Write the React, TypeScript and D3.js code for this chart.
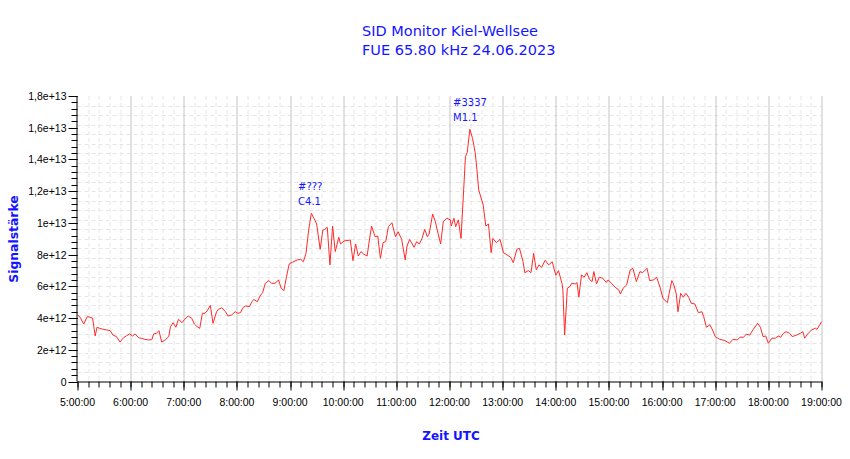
import { useEffect, useRef } from 'react';
import * as d3 from 'd3';

// Signal strength readings (unit: 1e12)
const times = [
  '05:00', '05:03', '05:07', '05:11', '05:14', '05:17', '05:20', '05:22', '05:25', '05:29',
  '05:33', '05:37', '05:40', '05:44', '05:48', '05:52', '05:55', '05:59', '06:02', '06:05',
  '06:09', '06:12', '06:16', '06:20', '06:24', '06:26', '06:29', '06:32', '06:35', '06:39',
  '06:43', '06:45', '06:48', '06:51', '06:54', '06:58', '07:01', '07:05', '07:09', '07:12',
  '07:15', '07:18', '07:21', '07:24', '07:27', '07:30', '07:33', '07:37', '07:39', '07:43',
  '07:47', '07:50', '07:54', '07:58', '08:01', '08:04', '08:07', '08:10', '08:14', '08:17',
  '08:19', '08:23', '08:26', '08:29', '08:32', '08:36', '08:39', '08:43', '08:47', '08:50',
  '08:53', '08:56', '08:59', '09:03', '09:08', '09:12', '09:15', '09:18', '09:21', '09:24',
  '09:27', '09:30', '09:34', '09:37', '09:39', '09:42', '09:45', '09:48', '09:51', '09:55',
  '09:57', '10:01', '10:08', '10:11', '10:14', '10:17', '10:20', '10:23', '10:27', '10:29',
  '10:32', '10:36', '10:39', '10:42', '10:45', '10:48', '10:51', '10:55', '10:59', '11:02',
  '11:06', '11:10', '11:12', '11:15', '11:20', '11:23', '11:26', '11:29', '11:32', '11:35',
  '11:37', '11:41', '11:44', '11:47', '11:50', '11:53', '11:57', '12:01', '12:02', '12:05',
  '12:07', '12:10', '12:13', '12:16', '12:18', '12:20', '12:23', '12:26', '12:29', '12:31',
  '12:33', '12:35', '12:38', '12:41', '12:44', '12:47', '12:49', '12:53', '12:57', '13:01',
  '13:05', '13:09', '13:12', '13:16', '13:19', '13:23', '13:25', '13:29', '13:32', '13:35',
  '13:38', '13:41', '13:44', '13:48', '13:52', '13:56', '14:00', '14:03', '14:07', '14:08',
  '14:10', '14:13', '14:16', '14:18', '14:22', '14:24', '14:26', '14:29', '14:32', '14:35',
  '14:38', '14:41', '14:43', '14:46', '14:49', '14:53', '14:57', '14:59', '15:03', '15:07',
  '15:11', '15:13', '15:16', '15:20', '15:24', '15:27', '15:31', '15:35', '15:38', '15:43',
  '15:46', '15:50', '15:54', '15:58', '16:01', '16:06', '16:08', '16:11', '16:13', '16:16',
  '16:18', '16:21', '16:24', '16:27', '16:30', '16:33', '16:37', '16:41', '16:45', '16:47',
  '16:50', '16:54', '16:57', '17:00', '17:05', '17:11', '17:16', '17:20', '17:25', '17:28',
  '17:32', '17:35', '17:39', '17:43', '17:48', '17:51', '17:54', '17:57', '18:00', '18:04',
  '18:08', '18:11', '18:14', '18:17', '18:20', '18:24', '18:27', '18:32', '18:36', '18:39',
  '18:41', '18:45', '18:49', '18:53', '18:55', '19:00',
];

const signal = [
  4.19, 4.05, 3.62, 4.09, 4.05, 4.0, 2.87, 3.42, 3.35, 3.29,
  3.25, 3.2, 2.93, 2.83, 2.49, 2.76, 2.87, 3.0, 2.87, 3.0,
  2.76, 2.72, 2.66, 2.62, 2.64, 3.0, 3.04, 3.2, 2.49, 2.62,
  2.83, 3.46, 3.71, 3.42, 3.92, 3.71, 3.92, 4.13, 3.98, 3.62,
  3.46, 3.35, 4.3, 4.3, 4.51, 4.8, 3.67, 4.4, 4.55, 4.65,
  4.4, 4.13, 4.19, 4.4, 4.3, 4.34, 4.67, 4.76, 4.72, 5.03,
  5.17, 5.03, 5.39, 5.6, 6.19, 6.36, 6.19, 6.19, 6.4, 5.88,
  5.73, 6.61, 7.41, 7.53, 7.66, 7.7, 7.55, 8.08, 9.55, 10.6,
  10.29, 9.93, 8.33, 9.55, 9.59, 9.72, 7.35, 9.8, 8.19, 9.09,
  8.67, 8.86, 8.92, 7.62, 8.67, 7.91, 8.19, 8.04, 7.91, 8.71,
  9.8, 9.13, 9.17, 7.77, 8.75, 8.82, 9.76, 10.01, 9.13, 9.44,
  8.96, 7.66, 8.54, 8.96, 8.46, 8.82, 8.67, 9.02, 9.59, 9.13,
  9.3, 10.56, 10.08, 9.34, 8.67, 10.08, 10.29, 10.19, 9.8, 10.29,
  9.76, 10.19, 9.02, 12.07, 14.17, 14.43, 15.9, 15.33, 14.43, 13.34,
  12.07, 11.7, 11.13, 9.8, 9.93, 8.12, 9.02, 8.75, 8.96, 8.12,
  7.98, 7.84, 7.49, 8.33, 8.4, 7.56, 6.86, 6.99, 6.86, 8.08,
  7.03, 7.35, 7.2, 7.64, 7.35, 7.55, 6.7, 6.99, 6.19, 5.78,
  2.93, 5.88, 5.99, 6.19, 6.15, 6.24, 5.31, 6.72, 6.57, 6.86,
  6.44, 6.3, 6.93, 6.15, 6.57, 6.51, 6.24, 6.4, 6.19, 5.94,
  5.78, 5.52, 5.88, 6.09, 7.03, 7.14, 6.3, 6.93, 6.86, 7.14,
  6.36, 6.4, 6.57, 5.88, 5.24, 4.97, 5.56, 6.36, 6.15, 5.52,
  4.4, 5.56, 5.31, 5.56, 5.31, 4.93, 4.89, 4.34, 4.4, 4.09,
  3.42, 3.57, 3.25, 2.83, 2.66, 2.58, 2.41, 2.66, 2.62, 2.79,
  2.79, 2.98, 2.93, 3.29, 3.67, 3.42, 2.83, 2.87, 2.41, 2.73,
  2.73, 2.87, 2.79, 3.04, 3.14, 3.04, 2.83, 2.93, 3.04, 3.14,
  2.73, 3.04, 3.25, 3.36, 3.29, 3.77,
];

// Flare annotations (anchor = baseline of first line)
const flareTimes = ['09:09', '12:04'];
const flareValues = [12.07, 17.37];
const flareIds = ['#???', '#3337'];
const flareClasses = ['C4.1', 'M1.1'];

const yMaxE12 = 18;
const yMajorStep = 2;
const yGridStep = 0.6;
const titleLines = ['SID Monitor Kiel-Wellsee', 'FUE 65.80 kHz 24.06.2023'];

const WIDTH = 850;
const HEIGHT = 459;
const BLUE = '#1414ff';
const FONT = '"DejaVu Sans", Verdana, sans-serif';
const TICK_FONT = '"Liberation Sans", Arial, sans-serif';

export default function App() {
  const svgRef = useRef<SVGSVGElement>(null);

  useEffect(() => {
    if (!svgRef.current) return;
    const svg = d3.select(svgRef.current);
    svg.selectAll('*').remove();

    const margin = { top: 96, right: 28.5, bottom: 77.5, left: 77.5 };
    const innerW = WIDTH - margin.left - margin.right;
    const innerH = HEIGHT - margin.top - margin.bottom;

    const parse = d3.timeParse('%H:%M');
    const data = times.map((t, i) => ({ t: parse(t) as Date, v: signal[i] * 1e12 }));

    const x = d3.scaleTime()
      .domain([parse('05:00') as Date, parse('19:00') as Date])
      .range([0, innerW]);
    const y = d3.scaleLinear().domain([0, yMaxE12 * 1e12]).range([innerH, 0]);

    svg.append('rect').attr('width', WIDTH).attr('height', HEIGHT).attr('fill', '#fff');

    const g = svg.append('g').attr('transform', `translate(${margin.left},${margin.top})`);

    const minorX = x.ticks(d3.timeMinute.every(12) as d3.TimeInterval);
    const majorX = x.ticks(d3.timeHour.every(1) as d3.TimeInterval);
    const minorY = d3.range(0, yMaxE12 + 0.001, yMajorStep / 5).map(d => d * 1e12);
    const majorY = d3.range(0, yMaxE12 + 0.001, yMajorStep).map(d => d * 1e12);
    const gridY = d3.range(1, Math.round(yMaxE12 / yGridStep)).map(k => k * yGridStep * 1e12);

    const px = (v: number) => Math.round(v) + 0.5;

    // dashed minor grid
    g.append('g')
      .selectAll('line')
      .data(minorX.filter(d => d.getMinutes() !== 0))
      .join('line')
      .attr('x1', d => px(x(d)))
      .attr('x2', d => px(x(d)))
      .attr('y1', 0)
      .attr('y2', innerH)
      .attr('stroke', '#e6e6e6')
      .attr('stroke-dasharray', '4,3');

    g.append('g')
      .selectAll('line')
      .data(gridY)
      .join('line')
      .attr('x1', 0)
      .attr('x2', innerW)
      .attr('y1', d => px(y(d)))
      .attr('y2', d => px(y(d)))
      .attr('stroke', '#e6e6e6')
      .attr('stroke-dasharray', '4,3');

    // solid hour lines
    g.append('g')
      .selectAll('line')
      .data(majorX.slice(1))
      .join('line')
      .attr('x1', d => px(x(d)))
      .attr('x2', d => px(x(d)))
      .attr('y1', 0)
      .attr('y2', innerH)
      .attr('stroke', '#c4c4c4');

    // signal line
    const line = d3.line<{ t: Date; v: number }>()
      .x(d => x(d.t))
      .y(d => y(d.v));

    g.append('path')
      .datum(data)
      .attr('d', line)
      .attr('fill', 'none')
      .attr('stroke', '#ff2a2a')
      .attr('stroke-width', 1)
      .attr('stroke-linejoin', 'round');

    // x axis
    const xAxis = g.append('g').attr('transform', `translate(0,${innerH})`);
    xAxis.append('line')
      .attr('x1', 0).attr('x2', innerW)
      .attr('y1', 0.5).attr('y2', 0.5)
      .attr('stroke', '#000');
    xAxis.selectAll('line.minor')
      .data(minorX)
      .join('line')
      .attr('class', 'minor')
      .attr('x1', d => px(x(d)))
      .attr('x2', d => px(x(d)))
      .attr('y1', 0)
      .attr('y2', 6)
      .attr('stroke', '#000');
    xAxis.selectAll('line.major')
      .data(majorX)
      .join('line')
      .attr('class', 'major')
      .attr('x1', d => px(x(d)))
      .attr('x2', d => px(x(d)))
      .attr('y1', 0)
      .attr('y2', 9)
      .attr('stroke', '#000');
    xAxis.selectAll('text')
      .data(majorX)
      .join('text')
      .attr('x', d => x(d))
      .attr('y', 24)
      .attr('text-anchor', 'middle')
      .attr('font-family', TICK_FONT)
      .attr('font-size', '10.5px')
      .attr('fill', '#000')
      .text(d => d3.timeFormat('%-H:%M:%S')(d));

    // y axis
    const yFmt = (d: number) =>
      d === 0 ? '0' : d3.format('.1e')(d).replace('.0e', 'e').replace('.', ',');

    const yAxis = g.append('g');
    yAxis.append('line')
      .attr('x1', -0.5).attr('x2', -0.5)
      .attr('y1', 0).attr('y2', innerH)
      .attr('stroke', '#000');
    yAxis.selectAll('line.minor')
      .data(minorY)
      .join('line')
      .attr('class', 'minor')
      .attr('x1', -6)
      .attr('x2', 0)
      .attr('y1', d => px(y(d)))
      .attr('y2', d => px(y(d)))
      .attr('stroke', '#000');
    yAxis.selectAll('line.major')
      .data(majorY)
      .join('line')
      .attr('class', 'major')
      .attr('x1', -9)
      .attr('x2', 0)
      .attr('y1', d => px(y(d)))
      .attr('y2', d => px(y(d)))
      .attr('stroke', '#000');
    yAxis.selectAll('text')
      .data(majorY)
      .join('text')
      .attr('x', -11)
      .attr('y', d => y(d) + 4)
      .attr('text-anchor', 'end')
      .attr('font-family', TICK_FONT)
      .attr('font-size', '10.5px')
      .attr('fill', '#000')
      .text(d => yFmt(d));

    // flare annotations
    flareTimes.forEach((ft, i) => {
      const ax = x(parse(ft) as Date);
      const ay = y(flareValues[i] * 1e12);
      const t = g.append('text')
        .attr('font-family', FONT)
        .attr('font-size', '10px')
        .attr('fill', BLUE);
      t.append('tspan').attr('x', ax).attr('y', ay).text(flareIds[i]);
      t.append('tspan').attr('x', ax).attr('y', ay + 15).text(flareClasses[i]);
    });

    // axis titles
    svg.append('text')
      .attr('x', 451)
      .attr('y', 440)
      .attr('text-anchor', 'middle')
      .attr('font-family', FONT)
      .attr('font-weight', 'bold')
      .attr('font-size', '12px')
      .attr('fill', BLUE)
      .text('Zeit UTC');

    svg.append('text')
      .attr('transform', 'translate(18,239) rotate(-90)')
      .attr('text-anchor', 'middle')
      .attr('font-family', FONT)
      .attr('font-weight', 'bold')
      .attr('font-size', '12.4px')
      .attr('fill', BLUE)
      .text('Signalstärke');

    // title
    titleLines.forEach((s, i) => {
      svg.append('text')
        .attr('x', 362)
        .attr('y', 36 + i * 18.6)
        .attr('font-family', FONT)
        .attr('font-size', '14.5px')
        .attr('fill', BLUE)
        .text(s);
    });
  }, []);

  return (
    <svg
      ref={svgRef}
      width={WIDTH}
      height={HEIGHT}
      style={{ position: 'absolute', left: 0, top: 0, display: 'block' }}
    />
  );
}
